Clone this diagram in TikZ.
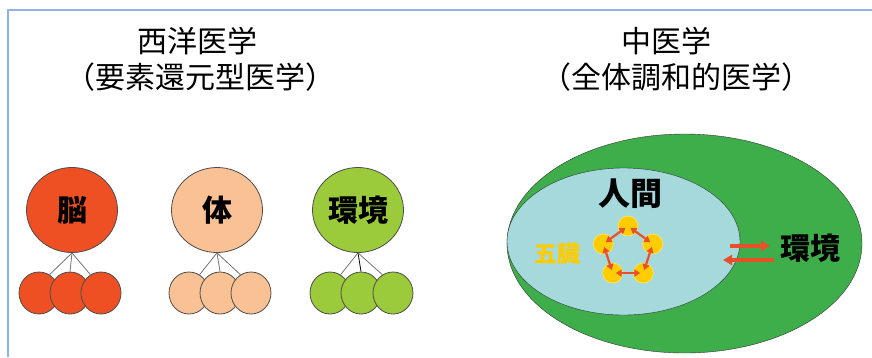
\documentclass[tikz,border=0pt]{standalone}
\usepackage{fontspec}
\usepackage{xcolor}
\newfontfamily\cjk{Noto Sans CJK JP}
\usetikzlibrary{calc,shapes.geometric,arrows.meta}

\definecolor{waku}{HTML}{8DB4E2}
\definecolor{nou}{HTML}{EE5024}
\definecolor{karada}{HTML}{FAC195}
\definecolor{kankyo}{HTML}{9BCB3B}
\definecolor{soto}{HTML}{3DAE4A}
\definecolor{ningen}{HTML}{A5D9DC}
\definecolor{gozo}{HTML}{FFCC00}
\definecolor{yajirushi}{HTML}{E8502A}

\tikzset{
  oomaru/.style={ellipse, draw=black!70, thick, minimum width=91pt, minimum height=85pt, inner sep=0pt},
  komaru/.style={ellipse, draw=black!70, thick, minimum width=40pt, minimum height=42pt, inner sep=0pt},
  eda/.style={draw=black!55, thick},
  midashi/.style={font=\cjk\fontsize{30}{30}\selectfont},
  futoji/.style={font=\cjk\bfseries\fontsize{30}{30}\selectfont},
  gozomaru/.style={circle, fill=gozo, draw=gozo!60!white, thick, minimum size=20pt, inner sep=0pt},
}

\begin{document}
\begin{tikzpicture}[x=1pt, y=-1pt] % 座標は画像のピクセル、y軸は下向き
  \useasboundingbox (0,0) rectangle (872,357);
  \draw[waku, line width=1.2pt] (8,357) -- (8,10) -- (872,10); % 枠線

  % 見出し
  \node[midashi] (seiyo) at (197,41) {西洋医学};
  \node[midashi] (seiyo2) at (200,77) {（要素還元型医学）};
  \node[midashi] (chui) at (666,41) {中医学};
  \node[midashi] (chui2) at (676,77) {（全体調和的医学）};

  % 西洋医学：脳・体・環境
  \node[oomaru, fill=nou] (nou) at (72,210) {};
  \node[futoji] at (nou) {脳};
  \node[komaru, fill=nou] (nou1) at (39,293) {};
  \node[komaru, fill=nou] (nou2) at (70,293) {};
  \node[komaru, fill=nou] (nou3) at (101,293) {};
  \draw[eda] (nou.south) -- (nou1.60);
  \draw[eda] (nou.south) -- (nou2.north);
  \draw[eda] (nou.south) -- (nou3.120);

  \node[oomaru, fill=karada] (karada) at (217,210) {};
  \node[futoji] at (karada) {体};
  \node[komaru, fill=karada] (karada1) at (189,293) {};
  \node[komaru, fill=karada] (karada2) at (220,293) {};
  \node[komaru, fill=karada] (karada3) at (251,293) {};
  \draw[eda] (karada.south) -- (karada1.60);
  \draw[eda] (karada.south) -- (karada2.north);
  \draw[eda] (karada.south) -- (karada3.120);

  \node[oomaru, fill=kankyo] (kankyo) at (358,210) {};
  \node[futoji] at (kankyo) {環境};
  \node[komaru, fill=kankyo] (kankyo1) at (330,293) {};
  \node[komaru, fill=kankyo] (kankyo2) at (361,293) {};
  \node[komaru, fill=kankyo] (kankyo3) at (393,293) {};
  \draw[eda] (kankyo.south) -- (kankyo1.60);
  \draw[eda, draw=black] (kankyo.south) -- (kankyo2.north);
  \draw[eda] (kankyo.south) -- (kankyo3.120);

  % 中医学：環境の中の人間
  \node[ellipse, fill=soto, draw=black!80, minimum width=355pt, minimum height=219pt] (soto) at (684.5,243.5) {};
  \node[ellipse, fill=ningen, draw=black!80, minimum width=233pt, minimum height=147pt] (hito) at (623.5,241.5) {};
  \node[futoji, font=\cjk\bfseries\fontsize{32}{32}\selectfont] (ningenmoji) at (630,194) {人間};
  \node[futoji] (kankyomoji) at (810,248) {環境};
  \node[font=\cjk\bfseries\fontsize{23}{23}\selectfont, text=gozo] (gozomoji) at (557,254) {五臓};

  % 五臓の円と相互の矢印
  \coordinate (c) at (628,252);
  \foreach \i in {0,...,4}
    \node[gozomaru] (g\i) at ($(c)+(-90+72*\i:26)$) {};
  \foreach \i/\j in {0/1,1/2,2/3,3/4,4/0}
    \draw[yajirushi, line width=2.2pt, {Triangle[length=6pt,width=7pt]}-{Triangle[length=6pt,width=7pt]}, shorten <=3pt, shorten >=3pt] (g\i.center) -- (g\j.center);

  % 人間と環境のやりとり
  \coordinate (a1) at (730,246);
  \coordinate (a2) at (770,246);
  \coordinate (b1) at (774,260);
  \coordinate (b2) at (723,260);
  \draw[yajirushi, line width=3.5pt, -{Triangle[length=9pt,width=10pt]}] (a1) -- (a2);
  \draw[yajirushi, line width=3.5pt, -{Triangle[length=9pt,width=10pt]}] (b1) -- (b2);
\end{tikzpicture}
\end{document}
